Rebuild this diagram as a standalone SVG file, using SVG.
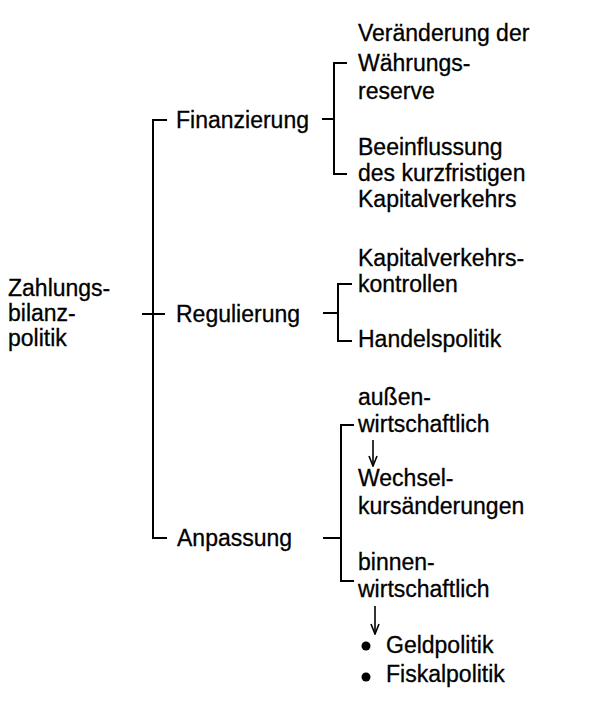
<svg xmlns="http://www.w3.org/2000/svg" width="600" height="702" viewBox="0 0 600 702">
<defs>
<style>
text{font-family:"Liberation Sans",Arial,sans-serif;font-size:23px;fill:#000;stroke:#000;stroke-width:0.3}
.ln{stroke:#000;stroke-width:2;fill:none}
.ar{stroke:#000;stroke-width:1.6;fill:none}
</style>
<marker id="ah" viewBox="0 0 12 10" refX="11" refY="5" markerWidth="12" markerHeight="10" markerUnits="userSpaceOnUse" orient="auto">
<path d="M1,1 L11,5 L1,9" fill="none" stroke="#000" stroke-width="1.6"/>
</marker>
</defs>
<rect width="600" height="702" fill="#fff"/>
<g id="connectors">
<path class="ln" d="M167,120 H153 V538 H167 M142,314 H165"/>
<path class="ln" d="M322,119 H334 M347,63 H334 V174 H347"/>
<path class="ln" d="M323,313 H338 M352,284 H338 V341 H352"/>
<path class="ln" d="M323,538 H341 M354,425 H341 V581 H354"/>
<line class="ar" x1="373" y1="440" x2="373" y2="466" marker-end="url(#ah)"/>
<line class="ar" x1="375" y1="606" x2="375" y2="634" marker-end="url(#ah)"/>
</g>
<g id="root"><text x="8" y="296">Zahlungs-</text><text x="8" y="321">bilanz-</text><text x="8" y="346">politik</text></g>
<g id="finanzierung"><text x="176" y="128">Finanzierung</text></g>
<g id="regulierung"><text x="176" y="322">Regulierung</text></g>
<g id="anpassung"><text x="177" y="546">Anpassung</text></g>
<g id="waehrungsreserve"><text x="358" y="41">Veränderung der</text><text x="358" y="71">Währungs-</text><text x="358" y="99">reserve</text></g>
<g id="kapitalverkehr"><text x="358" y="155">Beeinflussung</text><text x="358" y="181">des kurzfristigen</text><text x="358" y="207">Kapitalverkehrs</text></g>
<g id="kontrollen"><text x="358" y="266">Kapitalverkehrs-</text><text x="358" y="292">kontrollen</text></g>
<g id="handelspolitik"><text x="358" y="347">Handelspolitik</text></g>
<g id="aussenwirtschaftlich"><text x="358" y="405">außen-</text><text x="358" y="432">wirtschaftlich</text></g>
<g id="wechselkurs"><text x="358" y="486">Wechsel-</text><text x="358" y="514">kursänderungen</text></g>
<g id="binnenwirtschaftlich"><text x="358" y="570">binnen-</text><text x="358" y="597">wirtschaftlich</text></g>
<g id="geldpolitik"><circle cx="366" cy="646" r="4.5"/><text x="386" y="653">Geldpolitik</text></g>
<g id="fiskalpolitik"><circle cx="366" cy="677" r="4.5"/><text x="386" y="682">Fiskalpolitik</text></g>
</svg>
